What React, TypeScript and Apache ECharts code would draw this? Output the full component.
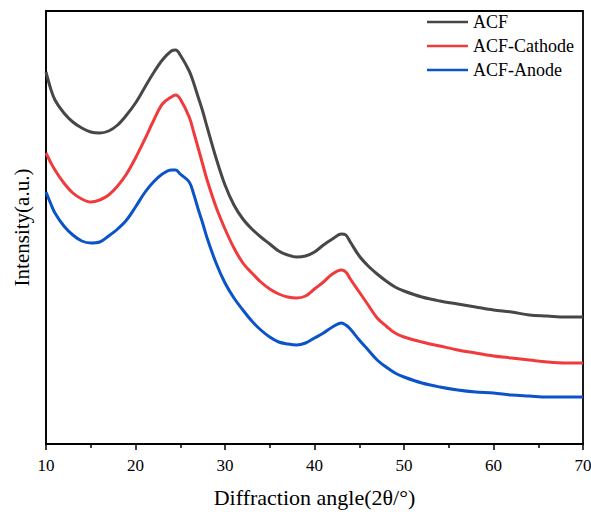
import React, { useEffect, useRef } from "react";
import * as echarts from "echarts";

const theta = [
  10, 10.5, 11, 12, 13, 14, 15, 16, 17, 18, 19, 20, 21, 22, 23, 24, 24.5, 25, 26, 26.5, 27, 27.5,
  28, 29, 30, 31, 32, 33, 34, 35, 36, 37, 38, 39, 40, 41, 42, 43, 43.5, 44, 45, 46, 47, 48, 49, 50,
  52, 54, 56, 58, 60, 62, 64, 66, 68, 70,
];

const acf = [
  372, 356, 344, 331, 322, 316, 312, 311, 313, 319, 329, 341, 356, 371, 384, 393, 394, 389, 373, 361, 347, 333,
  317, 286, 259, 239, 225, 215, 207, 200, 193, 189, 187, 188, 192, 199, 205, 210, 209, 202, 188, 178, 170, 163, 157, 153,
  147, 143, 140, 137, 134, 132, 129, 128, 127, 127,
];

const acfCathode = [
  291, 282, 274, 261, 251, 245, 242, 244, 249, 258, 270, 286, 304, 323, 340, 347, 349, 345, 327, 312, 296, 280,
  264, 237, 215, 196, 181, 171, 162, 155, 150, 147, 146, 148, 155, 162, 170, 174, 172, 165, 152, 139, 126, 118, 111, 107,
  102, 98, 94, 91, 88, 86, 84, 82, 81, 81,
];

const acfAnode = [
  252, 241, 231, 218, 209, 203, 201, 202, 208, 215, 224, 237, 251, 262, 270, 274, 274, 270, 262, 250, 235, 221,
  206, 181, 161, 146, 134, 123, 114, 107, 102, 100, 99, 101, 106, 111, 117, 121, 119, 115, 104, 94, 84, 77, 71, 67,
  61, 57, 54, 52, 51, 49, 48, 47, 47, 47,
];

const seriesNames = ["ACF", "ACF-Cathode", "ACF-Anode"];
const seriesColors = ["#474747", "#F03A3C", "#0B53C8"];
const seriesValues = [acf, acfCathode, acfAnode];

const FONT = "'Liberation Serif', 'Times New Roman', serif";

const GRID = { left: 46, top: 11, right: 8, bottom: 68 };
const W = 591;
const H = 512;

export default function App() {
  const ref = useRef<HTMLDivElement>(null);
  useEffect(() => {
    if (!ref.current) return;
    const chart = echarts.init(ref.current, undefined, { renderer: "svg" });
    const boxLine = { show: true, onZero: false, lineStyle: { color: "#000", width: 1.5 } };
    chart.setOption({
      animation: false,
      backgroundColor: "#ffffff",
      grid: {
        ...GRID,
        show: true,
        borderColor: "#000",
        borderWidth: 1.8,
        containLabel: false,
        outerBoundsMode: "none",
      },
      legend: {
        orient: "vertical",
        left: 427,
        top: 12,
        padding: 0,
        itemWidth: 41,
        itemHeight: 2.5,
        itemGap: 4,
        icon: "rect",
        textStyle: { fontFamily: FONT, fontSize: 18, color: "#000", lineHeight: 20 },
        data: seriesNames,
      },
      xAxis: {
        type: "value",
        min: 10,
        max: 70,
        interval: 10,
        name: "Diffraction angle(2θ/°)",
        nameLocation: "middle",
        nameGap: 42,
        nameTextStyle: { fontFamily: FONT, fontSize: 22, color: "#000" },
        axisLine: boxLine,
        axisTick: { show: true, inside: false, length: 6, lineStyle: { color: "#000", width: 1.5 } },
        minorTick: { show: true, splitNumber: 2, length: 4, lineStyle: { color: "#000", width: 1.5 } },
        axisLabel: { fontFamily: FONT, fontSize: 17, color: "#000", margin: 13 },
        splitLine: { show: false },
      },
      yAxis: {
        type: "value",
        min: 0,
        max: 433,
        name: "Intensity(a.u.)",
        nameLocation: "middle",
        nameGap: 14,
        nameTextStyle: { fontFamily: FONT, fontSize: 21, color: "#000" },
        axisLine: boxLine,
        axisTick: { show: false },
        axisLabel: { show: false },
        splitLine: { show: false },
      },
      series: seriesNames.map((name, i) => ({
        name,
        type: "line",
        showSymbol: false,
        smooth: 0.35,
        color: seriesColors[i],
        lineStyle: { width: 3, color: seriesColors[i] },
        data: theta.map((t, j) => [t, seriesValues[i][j]]),
      })),
    });
    return () => chart.dispose();
  }, []);
  return (
    <div
      ref={ref}
      style={{ position: "fixed", left: 0, top: 0, width: W, height: H, background: "#fff" }}
    />
  );
}
